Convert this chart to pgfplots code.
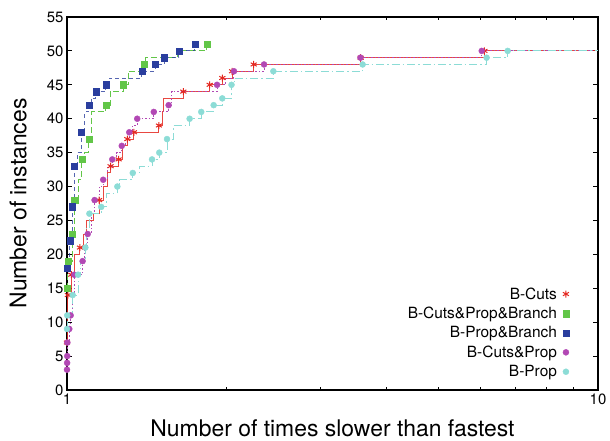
\documentclass[border=0pt]{standalone}
\usepackage{fontspec}
\setmainfont{TeX Gyre Heros}
\usepackage{pgfplots}
\pgfplotsset{compat=1.18}

\definecolor{cRed}{RGB}{228,40,32}
\definecolor{cGreen}{RGB}{98,198,72}
\definecolor{cBlue}{RGB}{42,62,158}
\definecolor{cMag}{RGB}{178,72,180}
\definecolor{cCyan}{RGB}{140,220,214}

\begin{document}
\begin{tikzpicture}
\begin{axis}[
  xmode=log,
  scale only axis,
  width=531bp, height=373bp,
  xmin=1, xmax=10, ymin=0, ymax=55,
  xtick={1,10}, xticklabels={1,10},
  minor xtick={2,3,4,5,6,7,8,9},
  ytick={0,5,...,55},
  tick align=inside,
  major tick length=5bp, minor tick length=3bp,
  axis line style={line width=1.2bp},
  every tick/.style={black, line width=0.9bp},
  ticklabel style={font=\fontsize{15}{15}\selectfont},
  /pgf/number format/assume math mode=true,
  xlabel={Number of times slower than fastest},
  ylabel={Number of instances},
  label style={font=\fontsize{23}{23}\selectfont},
  xlabel style={at={(axis description cs:0.5,-0.102)}, anchor=center},
  ylabel style={at={(axis description cs:-0.092,0.5)}, anchor=center},
  legend plot pos=right,
  legend cell align=right,
  legend image code/.code={
    \path[draw=none, fill=none] (0bp,-2bp) rectangle (13bp,2bp);
    \draw[#1] plot coordinates {(7.5bp,0bp)};},
  legend style={draw=none, fill=none, at={(rel axis cs:0.956,0.022)}, anchor=south east,
    font=\fontsize{15.5}{15.5}\selectfont, row sep=3.5bp,
    nodes={inner sep=1.5bp}},
]
\coordinate (bl) at (rel axis cs:0,0);
\coordinate (tr) at (rel axis cs:1,1);

% ---- B-Cuts
\addplot[const plot, cRed, line width=1bp, opacity=0.85, forget plot] coordinates {
(1,7) (1.002,10) (1.004,14) (1.019,17) (1.035,20) (1.058,21) (1.075,23) (1.09,25)
(1.12,26) (1.149,28) (1.17,30) (1.19,32) (1.208,33) (1.251,34) (1.27,36) (1.299,37)
(1.337,38) (1.490,39) (1.51,41) (1.52,43) (1.656,44) (1.857,45) (1.961,46) (2.046,47)
(2.247,48) (3.573,49) (6.11,50) (10,50)};
\addplot[only marks, cRed, mark=asterisk, mark size=3.5bp, mark options={line width=1bp}] coordinates {
(1,7) (1.004,14) (1.019,17) (1.058,21) (1.149,28) (1.208,33) (1.251,34) (1.299,37)
(1.337,38) (1.490,39) (1.656,44) (1.857,45) (1.961,46) (2.046,47) (2.247,48) (3.573,49) (6.11,50)};
\addlegendentry{B-Cuts}

% ---- B-Cuts&Prop&Branch
\addplot[const plot, cGreen, line width=1bp, dash pattern=on 6bp off 3bp, forget plot] coordinates {
(1,15) (1.004,19) (1.022,23) (1.034,28) (1.05,31) (1.067,34) (1.08,35) (1.10,37)
(1.112,41) (1.184,42) (1.205,44) (1.275,45) (1.303,47) (1.396,48) (1.405,49) (1.618,50) (1.835,51)};
\addplot[only marks, cGreen, mark=square*, mark size=3.2bp] coordinates {
(1,15) (1.004,19) (1.022,23) (1.034,28) (1.067,34) (1.10,37) (1.184,42) (1.275,45) (1.396,48) (1.835,51)};
\addlegendentry{B-Cuts\&Prop\&Branch}

% ---- B-Prop&Branch
\addplot[const plot, cBlue, line width=1bp, opacity=0.8, dash pattern=on 4bp off 3bp, forget plot] coordinates {
(1,18) (1.013,22) (1.022,27) (1.031,33) (1.045,35) (1.063,38) (1.08,41) (1.10,42)
(1.11,43) (1.134,44) (1.184,45) (1.20,46) (1.384,47) (1.465,48) (1.523,49) (1.625,50) (1.742,51)};
\addplot[only marks, cBlue, mark=square*, mark size=3.2bp] coordinates {
(1,18) (1.013,22) (1.022,27) (1.031,33) (1.063,38) (1.10,42) (1.134,44) (1.184,45)
(1.384,47) (1.465,48) (1.523,49) (1.625,50) (1.742,51)};
\addlegendentry{B-Prop\&Branch}

% ---- B-Cuts&Prop
\addplot[const plot, cMag, line width=1bp, dash pattern=on 1.5bp off 2bp, forget plot] coordinates {
(1,3) (1.0005,4) (1.001,5) (1.0015,7) (1.01,9) (1.016,11) (1.025,14) (1.032,17)
(1.07,19) (1.08,21) (1.094,23) (1.11,26) (1.127,28) (1.15,30) (1.17,31) (1.19,33)
(1.217,34) (1.24,35) (1.268,36) (1.29,37) (1.31,38) (1.33,39) (1.356,40) (1.457,41)
(1.554,42) (1.575,44) (1.917,45) (1.99,46) (2.063,47) (2.35,48) (3.57,49) (6.04,50) (10,50)};
\addplot[only marks, cMag, mark=*, mark size=3bp] coordinates {
(1,3) (1.0005,4) (1.001,5) (1.0015,7) (1.01,9) (1.016,11) (1.032,17) (1.07,19)
(1.094,23) (1.127,28) (1.17,31) (1.217,34) (1.268,36) (1.31,38) (1.356,40) (1.457,41)
(1.554,42) (1.917,45) (2.063,47) (2.35,48) (3.57,49) (6.04,50)};
\addlegendentry{B-Cuts\&Prop}

% ---- B-Prop
\addplot[const plot, cCyan, line width=1bp, dash pattern=on 8bp off 3bp on 1.5bp off 3bp, forget plot] coordinates {
(1,9) (1.001,11) (1.025,14) (1.049,17) (1.06,19) (1.083,21) (1.09,24) (1.102,26)
(1.16,27) (1.188,29) (1.244,30) (1.258,31) (1.33,32) (1.372,33) (1.446,34) (1.492,35)
(1.543,37) (1.586,39) (1.702,40) (1.79,41) (1.889,42) (1.961,43) (2.041,45) (2.066,46)
(2.447,47) (3.604,48) (6.17,49) (6.76,50) (10,50)};
\addplot[only marks, cCyan, mark=*, mark size=3bp] coordinates {
(1,9) (1.001,11) (1.025,14) (1.049,17) (1.083,21) (1.102,26) (1.16,27) (1.244,30)
(1.33,32) (1.446,34) (1.492,35) (1.543,37) (1.702,40) (1.79,41) (1.889,42) (1.961,43)
(2.041,45) (2.447,47) (3.604,48) (6.17,49) (6.76,50)};
\addlegendentry{B-Prop}
\end{axis}
\path ([shift={(-67bp,-51bp)}]bl) rectangle ([shift={(12bp,17bp)}]tr);
\end{tikzpicture}
\end{document}
